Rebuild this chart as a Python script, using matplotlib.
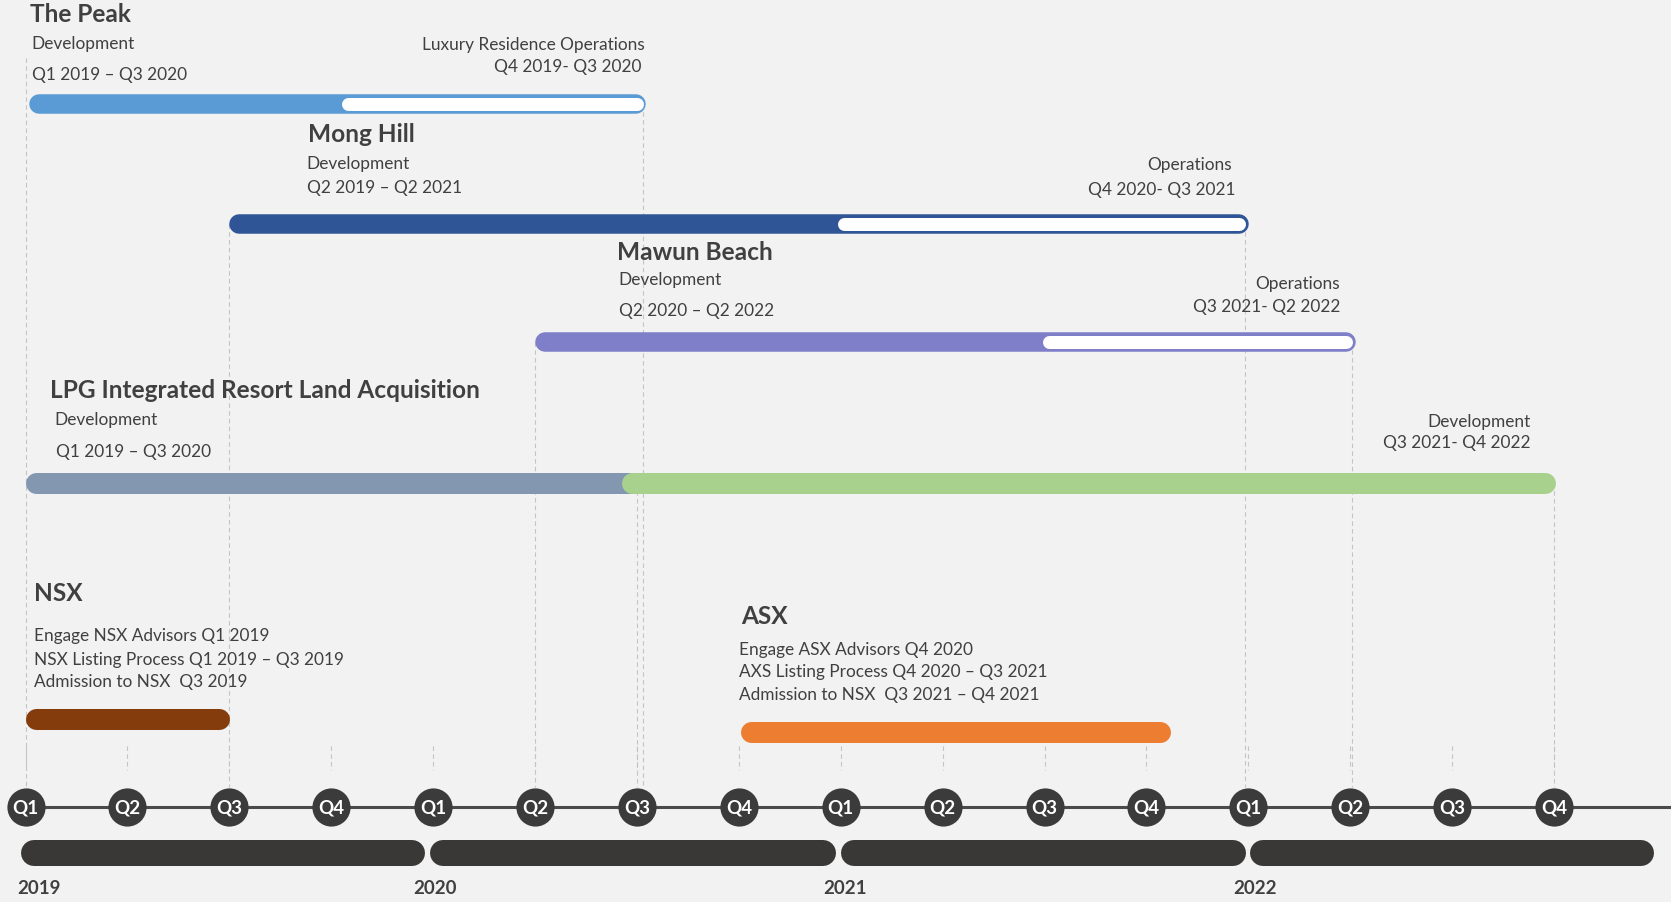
import matplotlib.pyplot as plt

plt.rcParams['font.family'] = ['Lato', 'DejaVu Sans']

# quarter index 0 = Q1 2019 ... 15 = Q4 2022
years = ['2019', '2020', '2021', '2022']
quarter_labels = ['Q1', 'Q2', 'Q3', 'Q4']
year_start = [-0.05, 3.97, 8.0, 12.02]
year_end = [3.92, 7.95, 11.98, 15.98]

proj_names = ['The Peak', 'Mong Hill', 'Mawun Beach']
proj_dev_start = [0.04, 2.0, 5.0]
proj_dev_end = [6.09, 12.0, 13.05]
proj_ops_start = [3.1, 7.97, 9.98]
proj_colors = ['#5B9BD5', '#2F5597', '#7F7FC9']
proj_dev_text = ['Q1 2019 – Q3 2020', 'Q2 2019 – Q2 2021', 'Q2 2020 – Q2 2022']
proj_ops_title = ['Luxury Residence Operations', 'Operations', 'Operations']
proj_ops_text = ['Q4 2019- Q3 2020', 'Q4 2020- Q3 2021', 'Q3 2021- Q2 2022']

lpg_name = 'LPG Integrated Resort Land Acquisition'
lpg_first = [0.0, 6.03]
lpg_second = [5.85, 15.01]
lpg_texts = ['Q1 2019 – Q3 2020', 'Q3 2021- Q4 2022']

nsx_span = [0.0, 2.0]
nsx_lines = ['Engage NSX Advisors Q1 2019',
             'NSX Listing Process Q1 2019 – Q3 2019',
             'Admission to NSX  Q3 2019']
asx_span = [7.02, 11.24]
asx_lines = ['Engage ASX Advisors Q4 2020',
             'AXS Listing Process Q4 2020 – Q3 2021',
             'Admission to NSX  Q3 2021 – Q4 2021']

W, H = 1671, 902
Q0, QW = 25.6, 101.9          # pixel x of Q1 2019, pixels per quarter
BG = '#F2F2F2'
TXT = '#404040'

fig = plt.figure(figsize=(W / 100, H / 100), dpi=100, facecolor=BG)
ax = fig.add_axes([0, 0, 1, 1])
ax.set_facecolor(BG)
ax.set_xlim(-Q0 / QW, (W - Q0) / QW)
ax.set_ylim(H, 0)
ax.axis('off')


def bar(x0, x1, y, h, color, z=3):
    r = h / 2 / QW
    ax.plot([x0 + r, x1 - r], [y, y], lw=h * 0.72, color=color,
            solid_capstyle='round', zorder=z)


def dash(x, y0, y1):
    ax.plot([x, x], [y0, y1], color='#C4C4C4', lw=0.8,
            ls=(0, (4, 3)), zorder=1)


small = dict(fontsize=12.4, color=TXT, va='center')
title = dict(fontsize=17.6, color=TXT, va='center', fontweight='bold')

# timeline
line_y, circ_top = 806.7, 787
n_q = len(years) * 4
for q in range(n_q):
    dash(q, 746, 770)
ax.plot([0, (W - Q0) / QW], [line_y, line_y], color='#4A4A4A', lw=2.2, zorder=2)
for q in range(n_q):
    ax.plot(q, line_y, 'o', ms=27.5, color='#3B3B3B', mec='none', zorder=4)
    ax.text(q, line_y + 1, quarter_labels[q % 4], color='white', fontsize=13.5,
            fontweight='bold', ha='center', va='center', zorder=5)
for i, yr in enumerate(years):
    bar(year_start[i], year_end[i], 852.6, 26, '#3A3836')
    ax.text(max(year_start[i] - 0.17, -0.085), 889, yr, color=TXT,
            fontsize=13.5, fontweight='bold', ha='left', va='center')

# project bars
proj_y = [104.4, 223.8, 342.0]
title_dy = [-89.4, -89.5, -89.4]
title_x = [0.04, 2.77, 5.80]
dev_x = [0.06, 2.76, 5.82]
dev_y = [(43.7, 74.6), (164.0, 187.6), (280.0, 311.0)]
ops_xr = [(6.08, 6.04), (11.84, 11.87), (12.9, 12.9)]
ops_y = [(44.8, 67.0), (165.0, 189.7), (284.5, 307.0)]
for i, name in enumerate(proj_names):
    y = proj_y[i]
    dash(proj_dev_end[i] - 0.03, y, circ_top)
    if i == 0:
        dash(0, 58, circ_top)
    else:
        dash(proj_dev_start[i], y, circ_top)
    bar(proj_dev_start[i], proj_dev_end[i], y, 19.5, proj_colors[i])
    bar(proj_ops_start[i], proj_dev_end[i] - 3 / QW, y, 13, 'white', z=4)
    ax.text(title_x[i], y + title_dy[i], name, ha='left', **title)
    ax.text(dev_x[i], dev_y[i][0], 'Development', ha='left', **small)
    ax.text(dev_x[i], dev_y[i][1], proj_dev_text[i], ha='left', **small)
    ax.text(ops_xr[i][0], ops_y[i][0], proj_ops_title[i], ha='right', **small)
    ax.text(ops_xr[i][1], ops_y[i][1], proj_ops_text[i], ha='right', **small)

# LPG
lpg_y = 482.8
dash(lpg_first[1] - 0.03, lpg_y, circ_top)
dash(lpg_second[1] - 0.01, lpg_y, circ_top)
bar(lpg_first[0], lpg_first[1], lpg_y, 21, '#8497B0')
bar(lpg_second[0], lpg_second[1], lpg_y, 21, '#A9D18E', z=4)
ax.text(0.24, 391, lpg_name, ha='left', **title)
ax.text(0.28, 420, 'Development', ha='left', **small)
ax.text(0.30, 452, lpg_texts[0], ha='left', **small)
ax.text(14.77, 422, 'Development', ha='right', **small)
ax.text(14.77, 443.3, lpg_texts[1], ha='right', **small)

# listings
bar(nsx_span[0], nsx_span[1], 719, 21, '#843C0C')
ax.text(0.08, 593.6, 'NSX', ha='left', **title)
for k, s in enumerate(nsx_lines):
    ax.text(0.08, [636.2, 659.7, 682.0][k], s, ha='left', **small)

bar(asx_span[0], asx_span[1], 732, 21, '#ED7D31')
ax.text(7.02, 616, 'ASX', ha='left', **title)
for k, s in enumerate(asx_lines):
    ax.text(7.0, [650.0, 672.5, 695.0][k], s, ha='left', **small)

fig.savefig('out.png', dpi=100, facecolor=BG)
